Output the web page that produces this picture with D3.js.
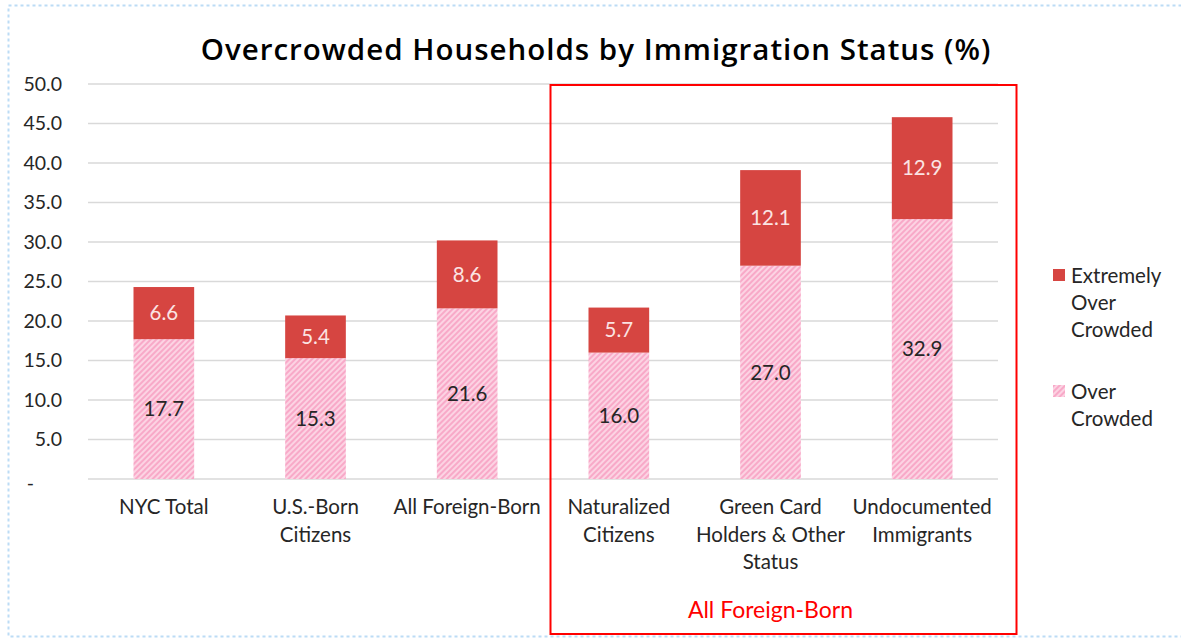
<!DOCTYPE html>
<html>
<head>
<meta charset="utf-8">
<script src="https://cdn.jsdelivr.net/npm/d3@7"></script>
<style>
  body { margin: 0; background: #fff; }
  svg { display: block; }
</style>
</head>
<body>
<div id="chart"></div>
<script>
const categories = [
  ["NYC Total"],
  ["U.S.-Born", "Citizens"],
  ["All Foreign-Born"],
  ["Naturalized", "Citizens"],
  ["Green Card", "Holders & Other", "Status"],
  ["Undocumented", "Immigrants"]
]
const overCrowded = [17.7, 15.3, 21.6, 16.0, 27.0, 32.9]
const extremelyOver = [6.6, 5.4, 8.6, 5.7, 12.1, 12.9]
const yTicks = [0, 5, 10, 15, 20, 25, 30, 35, 40, 45, 50]

const width = 1181, height = 639
const margin = { top: 84, right: 183, bottom: 160, left: 88 }
const ctrWidth = width - margin.left - margin.right
const ctrHeight = height - margin.top - margin.bottom

const red = "#d64541"
const font = "Lato, 'Open Sans', sans-serif"
const fs = 20.5

const svg = d3.select("#chart").append("svg")
  .attr("width", width).attr("height", height)

const defs = svg.append("defs")
const pat = defs.append("pattern")
  .attr("id", "hatch")
  .attr("patternUnits", "userSpaceOnUse")
  .attr("width", 4).attr("height", 4)
  .attr("patternTransform", "rotate(45)")
pat.append("rect").attr("width", 4).attr("height", 4).attr("fill", "#fcd3e3")
pat.append("rect").attr("width", 2).attr("height", 4).attr("fill", "#f8a9c8")

// outer dotted frame
svg.append("rect")
  .attr("x", 8.5).attr("y", 5.5)
  .attr("width", 1190).attr("height", 631)
  .attr("fill", "none")
  .attr("stroke", "#bcdcf5")
  .attr("stroke-width", 2)
  .attr("stroke-dasharray", "3,3")

svg.append("text")
  .attr("x", 596).attr("y", 60)
  .attr("text-anchor", "middle")
  .attr("font-family", "'Open Sans', sans-serif")
  .attr("font-weight", 600)
  .attr("font-size", 29.5)
  .attr("letter-spacing", 1)
  .attr("fill", "#000")
  .text("Overcrowded Households by Immigration Status (%)")

const ctr = svg.append("g")
  .attr("transform", `translate(${margin.left}, ${margin.top})`)

const xScale = d3.scaleBand()
  .domain(d3.range(categories.length))
  .range([0, ctrWidth])
  .paddingInner(0.6)
  .paddingOuter(0.3)

const yScale = d3.scaleLinear()
  .domain([0, 50])
  .range([ctrHeight, 0])

// gridlines
ctr.append("g")
  .selectAll("line")
  .data(yTicks)
  .join("line")
  .attr("x1", 0).attr("x2", ctrWidth)
  .attr("y1", d => yScale(d)).attr("y2", d => yScale(d))
  .attr("stroke", "#d9d9d9")
  .attr("stroke-width", 1.5)

// y axis labels
const yAxis = d3.axisLeft(yScale)
  .tickValues(yTicks)
  .tickSize(0)
  .tickPadding(26)
  .tickFormat(d => d === 0 ? "-" : d.toFixed(1))

const yG = ctr.append("g").call(yAxis)
yG.select(".domain").remove()
yG.selectAll("text")
  .attr("font-family", font)
  .attr("font-size", 19.5)
  .attr("fill", "#262626")
yG.selectAll(".tick").filter(d => d === 0).select("text")
  .attr("dx", -28).attr("dy", "0.55em")

const bars = ctr.append("g")
  .selectAll("g")
  .data(categories.map((c, i) => ({ i, over: overCrowded[i], ext: extremelyOver[i] })))
  .join("g")

bars.append("rect")
  .attr("x", d => xScale(d.i))
  .attr("width", xScale.bandwidth())
  .attr("y", d => yScale(d.over))
  .attr("height", d => yScale(0) - yScale(d.over))
  .attr("fill", "url(#hatch)")

bars.append("rect")
  .attr("x", d => xScale(d.i))
  .attr("width", xScale.bandwidth())
  .attr("y", d => yScale(d.over + d.ext))
  .attr("height", d => yScale(d.over) - yScale(d.over + d.ext))
  .attr("fill", red)

bars.append("text")
  .attr("x", d => xScale(d.i) + xScale.bandwidth() / 2)
  .attr("y", d => yScale(d.over / 2))
  .attr("dy", "0.35em")
  .attr("text-anchor", "middle")
  .attr("font-family", font)
  .attr("font-size", fs)
  .attr("fill", "#262626")
  .text(d => d.over.toFixed(1))

bars.append("text")
  .attr("x", d => xScale(d.i) + xScale.bandwidth() / 2)
  .attr("y", d => yScale(d.over + d.ext / 2))
  .attr("dy", "0.35em")
  .attr("text-anchor", "middle")
  .attr("font-family", font)
  .attr("font-size", fs)
  .attr("fill", "#fbe3e3")
  .text(d => d.ext.toFixed(1))

// category labels
const catG = ctr.append("g")
  .selectAll("text")
  .data(categories)
  .join("text")
  .attr("x", (d, i) => xScale(i) + xScale.bandwidth() / 2)
  .attr("y", ctrHeight + 35)
  .attr("text-anchor", "middle")
  .attr("font-family", font)
  .attr("font-size", fs)
  .attr("fill", "#262626")

catG.selectAll("tspan")
  .data(d => d)
  .join("tspan")
  .attr("x", function () { return d3.select(this.parentNode).attr("x") })
  .attr("dy", (d, j) => j === 0 ? 0 : 27.5)
  .text(d => d)

// foreign-born group box
const boxLeft = xScale(3) - 38
const boxRight = xScale(5) + xScale.bandwidth() + 64
svg.append("rect")
  .attr("x", margin.left + boxLeft)
  .attr("y", margin.top + 1)
  .attr("width", boxRight - boxLeft)
  .attr("height", 549)
  .attr("fill", "none")
  .attr("stroke", "#ff0000")
  .attr("stroke-width", 2)

svg.append("text")
  .attr("x", margin.left + (xScale(3) + xScale(5) + xScale.bandwidth()) / 2)
  .attr("y", 618)
  .attr("text-anchor", "middle")
  .attr("font-family", font)
  .attr("font-size", 23)
  .attr("fill", "#ff0000")
  .text("All Foreign-Born")

// legend
const legendItems = [
  { fill: red, lines: ["Extremely", "Over", "Crowded"], y: 269 },
  { fill: "url(#hatch)", lines: ["Over", "Crowded"], y: 385 }
]
const leg = svg.append("g").selectAll("g")
  .data(legendItems)
  .join("g")
  .attr("transform", d => `translate(1053, ${d.y})`)
leg.append("rect")
  .attr("width", 12).attr("height", 12)
  .attr("fill", d => d.fill)
const legText = leg.append("text")
  .attr("x", 18).attr("y", 14)
  .attr("font-family", font)
  .attr("font-size", fs)
  .attr("fill", "#262626")
legText.selectAll("tspan")
  .data(d => d.lines)
  .join("tspan")
  .attr("x", 18)
  .attr("dy", (d, j) => j === 0 ? 0 : 27)
  .text(d => d)
</script>
</body>
</html>
